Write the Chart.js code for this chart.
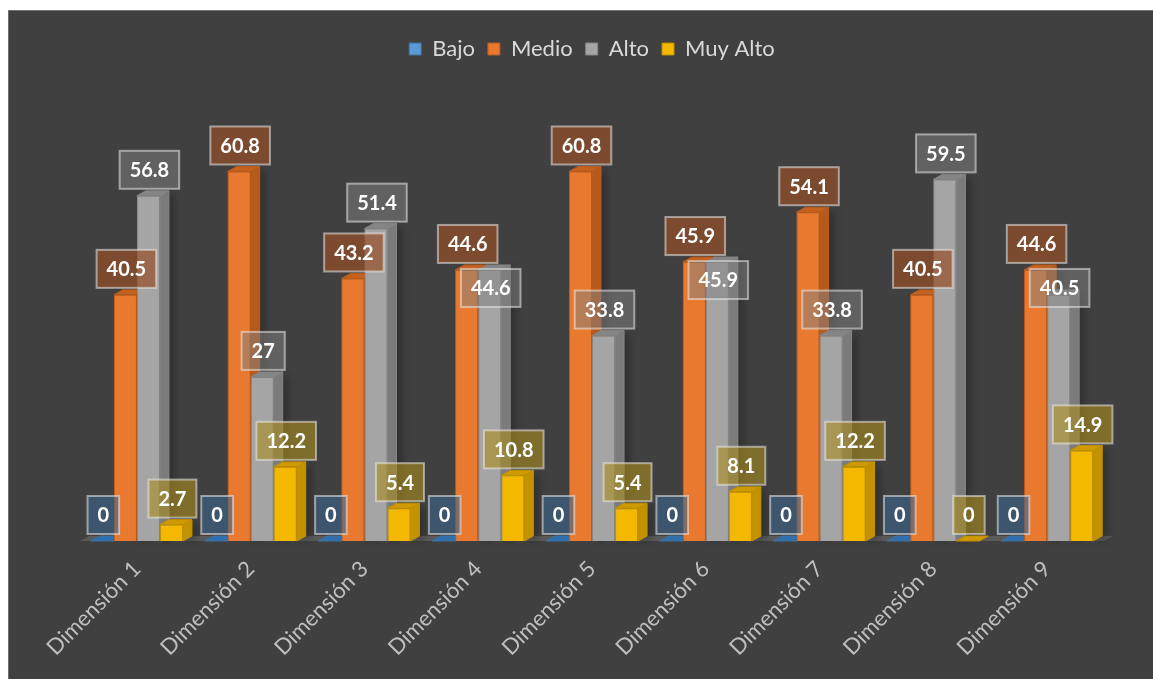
<!DOCTYPE html>
<html>
<head>
<meta charset="utf-8">
<script src="https://cdn.jsdelivr.net/npm/chart.js@4.4.1/dist/chart.umd.min.js"></script>
<style>
    html, body { margin: 0; background: #ffffff; }
    #wrap {
        position: absolute; left: 8px; top: 10px; width: 1145px; height: 669px;
        background: #404040; box-shadow: inset 1px 1px 0 #707070;
    }
    canvas { display: block; }
</style>
</head>
<body>
<div id="wrap"><canvas id="chart" width="1145" height="669"></canvas></div>
<script>
const categories = [
    'Dimensión 1', 'Dimensión 2', 'Dimensión 3', 'Dimensión 4', 'Dimensión 5',
    'Dimensión 6', 'Dimensión 7', 'Dimensión 8', 'Dimensión 9'
];
const seriesNames = ['Bajo', 'Medio', 'Alto', 'Muy Alto'];
const bajo = [0, 0, 0, 0, 0, 0, 0, 0, 0];
const medio = [40.5, 60.8, 43.2, 44.6, 60.8, 45.9, 54.1, 40.5, 44.6];
const alto = [56.8, 27, 51.4, 44.6, 33.8, 45.9, 33.8, 59.5, 40.5];
const muyAlto = [2.7, 12.2, 5.4, 10.8, 5.4, 8.1, 12.2, 0, 14.9];

// front / side / top faces and label boxes per series
const frontColors = ['#5b9bd5', '#e8792f', '#a5a5a5', '#f4b800'];
const edgeColors = ['#41719c', '#b85b1d', '#858585', '#bf8f00'];
const sideColors = ['#2f6aa3', '#b65a1c', '#7b7b7b', '#c39200'];
const topColors = ['#2e70b0', '#c4611f', '#858585', '#cf9a00'];
const labelFills = [
    'rgba(60,100,140,0.6)', 'rgba(150,80,40,0.7)',
    'rgba(130,130,130,0.5)', 'rgba(170,140,30,0.6)'
];

const DX = 9;
const DY = 5;

function poly(ctx, pts, fill, stroke) {
    ctx.beginPath();
    ctx.moveTo(pts[0][0], pts[0][1]);
    for (let k = 1; k < pts.length; k++) ctx.lineTo(pts[k][0], pts[k][1]);
    ctx.closePath();
    ctx.fillStyle = fill;
    ctx.fill();
    if (stroke) {
        ctx.strokeStyle = stroke;
        ctx.lineWidth = 1;
        ctx.stroke();
    }
}

// floor strip plus depth faces; bars are repainted series by series
// (first to last) so each one covers the side face of its left neighbour
const bar3d = {
    id: 'bar3d',
    beforeDatasetsDraw(chart) {
        const { ctx, chartArea } = chart;
        const base = chart.scales.y.getPixelForValue(0);
        poly(ctx, [
            [chartArea.left, base], [chartArea.right, base],
            [chartArea.right + DX, base - DY], [chartArea.left + DX, base - DY]
        ], '#5a5a5a');
    },
    afterDatasetsDraw(chart) {
        const ctx = chart.ctx;
        chart.data.datasets.forEach((ds, i) => {
            chart.getDatasetMeta(i).data.forEach(bar => {
                const { x, y, base, width } = bar.getProps(['x', 'y', 'base', 'width'], true);
                const l = x - width / 2;
                const r = x + width / 2;
                ctx.save();
                ctx.shadowColor = 'rgba(0,0,0,0.35)';
                ctx.shadowBlur = 10;
                ctx.shadowOffsetX = 4;
                ctx.shadowOffsetY = 2;
                if (base - y > 0.5) {
                    poly(ctx, [[r, y], [r + DX, y - DY], [r + DX, base - DY], [r, base]], sideColors[i]);
                }
                ctx.restore();
                ctx.save();
                if (base - y > 0.5) {
                    bar.draw(ctx);
                    poly(ctx, [[r, y], [r + DX, y - DY], [r + DX, base - DY], [r, base]], sideColors[i], edgeColors[i]);
                }
                poly(ctx, [[l, y], [r, y], [r + DX, y - DY], [l + DX, y - DY]], topColors[i], edgeColors[i]);
                ctx.restore();
            });
        });
    }
};

// boxed value labels above every bar
const valueLabels = {
    id: 'valueLabels',
    afterDatasetsDraw(chart) {
        const ctx = chart.ctx;
        ctx.save();
        ctx.font = 'bold 20px Lato';
        ctx.textAlign = 'center';
        ctx.textBaseline = 'middle';
        const boxes = categories.map(() => []);
        chart.data.datasets.forEach((ds, i) => {
            chart.getDatasetMeta(i).data.forEach((bar, j) => {
                const text = String(ds.data[j]);
                const w = ctx.measureText(text).width + 20;
                const h = 38;
                const cx = bar.x + 1;
                let top = bar.y - 7 - h;
                boxes[j].forEach(b => {
                    const overlapX = cx - w / 2 < b.x + b.w && cx + w / 2 > b.x;
                    const overlapY = top < b.y + b.h && top + h > b.y;
                    if (overlapX && overlapY) top = b.y + b.h + 6;
                });
                boxes[j].push({ x: cx - w / 2, y: top, w, h });
                ctx.fillStyle = labelFills[i];
                ctx.fillRect(cx - w / 2, top, w, h);
                ctx.strokeStyle = 'rgba(235,235,235,0.55)';
                ctx.lineWidth = 2;
                ctx.strokeRect(cx - w / 2, top, w, h);
                ctx.fillStyle = '#ffffff';
                ctx.fillText(text, cx, top + h / 2 + 1);
            });
        });
        ctx.restore();
    }
};

const seriesData = [bajo, medio, alto, muyAlto];

new Chart(document.getElementById('chart'), {
    type: 'bar',
    data: {
        labels: categories,
        datasets: seriesNames.map((name, i) => ({
            label: name,
            data: seriesData[i],
            backgroundColor: frontColors[i],
            borderColor: edgeColors[i],
            borderWidth: 1,
            barPercentage: 1,
            categoryPercentage: 0.81
        }))
    },
    options: {
        responsive: false,
        animation: false,
        layout: { padding: { top: 15, left: 72, right: 49, bottom: 0 } },
        plugins: {
            legend: {
                position: 'top',
                labels: {
                    color: '#d9d9d9',
                    font: { family: 'Lato', size: 22 },
                    boxWidth: 12,
                    boxHeight: 12,
                    padding: 13
                }
            },
            tooltip: { enabled: false }
        },
        scales: {
            x: {
                grid: { display: false },
                border: { display: false },
                ticks: {
                    color: '#bfbfbf',
                    font: { family: 'Lato', size: 22 },
                    minRotation: 45,
                    maxRotation: 45,
                    padding: 7
                },
                afterFit(scale) { scale.height = 138; }
            },
            y: {
                display: false,
                min: 0,
                max: 77.5
            }
        }
    },
    plugins: [bar3d, valueLabels]
});
</script>
</body>
</html>
